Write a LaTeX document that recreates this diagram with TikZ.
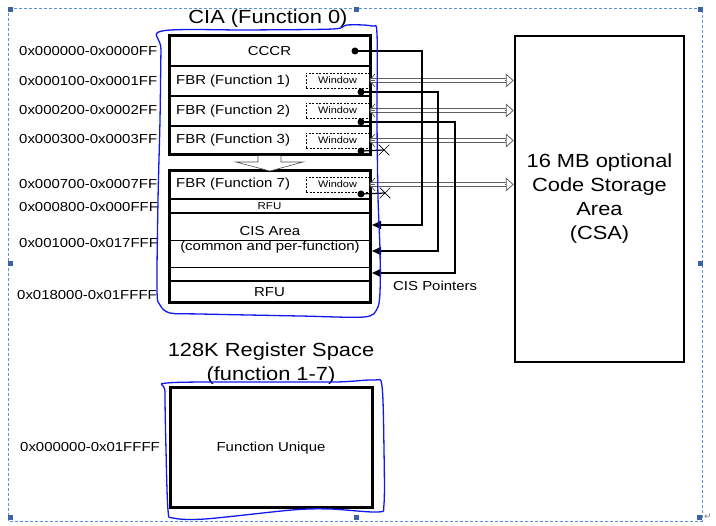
\documentclass[tikz,border=0pt]{standalone}
\usepackage{fontspec}
\setmainfont{Liberation Sans}[FakeStretch=1.15]
\newfontfamily\symfont{DejaVu Sans}
\usetikzlibrary{arrows.meta,shapes.misc}

\definecolor{handdrawn}{RGB}{15,25,240}
\definecolor{framedash}{RGB}{90,145,225}
\definecolor{handlecol}{RGB}{60,100,165}
\definecolor{linkgray}{RGB}{95,95,95}

\tikzset{
  addr/.style={anchor=west,inner sep=0pt,font=\fontsize{13}{15}\selectfont},
  lbl/.style={inner sep=0pt,font=\fontsize{13}{15}\selectfont},
  big/.style={inner sep=0pt,font=\fontsize{19}{24}\selectfont,align=center},
  row/.style={draw,line width=2,minimum width=201pt,inner sep=0pt,outer sep=0pt,font=\fontsize{13}{15}\selectfont},
  win/.style={draw,dash pattern={on 2pt off 1.5pt},line width=0.7,minimum width=63pt,minimum height=15pt,inner sep=0pt,font=\fontsize{9.5}{11}\selectfont},
  ptr/.style={line width=1.6,-{Triangle[length=9pt,width=8pt]}},
  csashaft/.style={draw=linkgray,line width=0.8,double=white,double distance=3.6pt,shorten >=8pt,shorten <=1pt},
  csahead/.style={draw=linkgray,line width=0.8,-{Triangle[open,length=8pt,width=14pt]}},
  csatail/.style={draw=linkgray,line width=0.8,-{Straight Barb[length=5pt,width=13pt]}},
  xmark/.style={draw,cross out,line width=0.7,minimum size=10pt,inner sep=0pt},
  handline/.style={handdrawn,line width=1.3},
}

\begin{document}
\begin{tikzpicture}[x=1pt,y=1pt,yscale=-1]
\useasboundingbox (0,0) rectangle (716,526);

%Shape: Rectangle (document frame)
\draw [framedash,line width=0.8,dash pattern=on 3pt off 2pt] (8,8) rectangle (702,521) ;
\fill [handlecol] (7.5,7.5) rectangle (12.5,12.5) ;
\fill [handlecol] (353.5,7.5) rectangle (358.5,12.5) ;
\fill [handlecol] (697.5,7.5) rectangle (702.5,12.5) ;
\fill [handlecol] (7.5,261.5) rectangle (12.5,266.5) ;
\fill [handlecol] (697.5,261.5) rectangle (702.5,266.5) ;
\fill [handlecol] (7.5,515.5) rectangle (12.5,520.5) ;
\fill [handlecol] (353.5,515.5) rectangle (358.5,520.5) ;
\fill [handlecol] (696.5,515.5) rectangle (701.5,520.5) ;
% Text Node
\node [text=gray,inner sep=0pt,font=\symfont\fontsize{9}{9}\selectfont] (pmark) at (708,517) {↵};

% Text Node
\node [big] (ciatitle) at (268,19) {CIA (Function 0)};

%Shape: Rectangle (CIA rows)
\node [row,minimum height=30pt] (cccr) at (269.5,51) {CCCR};
\node [row,minimum height=30pt] (fbr1) at (269.5,81) {};
\node [row,minimum height=30pt] (fbr2) at (269.5,111) {};
\node [row,minimum height=29pt] (fbr3) at (269.5,140.5) {};
\node [row,minimum height=28pt] (fbr7) at (269.5,185) {};
\node [row,minimum height=14pt,font=\fontsize{10}{11}\selectfont] (rfua) at (269.5,206) {RFU};
\node [row,minimum height=68pt] (cis) at (269.5,247) {};
\node [row,minimum height=22pt] (rfub) at (269.5,292) {RFU};
%Straight Lines
\draw [line width=0.8] (169,240) -- (370,240) ;
\draw [line width=0.8] (169,267) -- (370,267) ;
%Shape: Rectangle
\draw [line width=3] (cccr.north west) rectangle (fbr3.south east) ;
\draw [line width=3] (fbr7.north west) rectangle (rfub.south east) ;

%Shape: Block Arrow
\draw [fill=white,draw=gray!60!black,line width=0.6] (258,156) -- (258,162) -- (236,162) -- (270,171) -- (303,162) -- (281,162) -- (281,156) ;

% Text Node
\node [lbl,anchor=west] (fbr1txt) at (176,81) {FBR (Function 1)};
\node [lbl,anchor=west] (fbr2txt) at (176,111) {FBR (Function 2)};
\node [lbl,anchor=west] (fbr3txt) at (176,140) {FBR (Function 3)};
\node [lbl,anchor=west] (fbr7txt) at (176,184) {FBR (Function 7)};
\node [lbl] (cistxt) at (270,231) {CIS Area};
\node [lbl] (cistxtb) at (270,247) {(common and per-function)};

%Shape: Rectangle (windows)
\node [win] (win1) at (337.5,80.5) {Window};
\node [win] (win2) at (337.5,110.5) {Window};
\node [win] (win3) at (337.5,140.5) {Window};
\node [win] (win7) at (337.5,184.5) {Window};

% Text Node
\node [addr] (adr0) at (19,51) {0x000000-0x0000FF};
\node [addr] (adr1) at (19,81) {0x000100-0x0001FF};
\node [addr] (adr2) at (19,110) {0x000200-0x0002FF};
\node [addr] (adr3) at (19,139) {0x000300-0x0003FF};
\node [addr] (adr7) at (19,184) {0x000700-0x0007FF};
\node [addr] (adr8) at (19,207) {0x000800-0x000FFF};
\node [addr] (adrcis) at (19,243) {0x001000-0x017FFF};
\node [addr] (adrrfu) at (17,295) {0x018000-0x01FFFF};

%Shape: Rectangle (CSA)
\node [draw,line width=2.5,minimum width=169pt,minimum height=326pt,big] (csa) at (599.5,199) {16 MB optional\\Code Storage\\Area\\(CSA)};

%Double Lines (windows to CSA)
\coordinate (in1) at (win1.east -| csa.west) ;
\coordinate (in2) at (win2.east -| csa.west) ;
\coordinate (in3) at (win3.east -| csa.west) ;
\coordinate (in7) at (win7.east -| csa.west) ;
\draw [csashaft] (win1.east) -- (in1) ;
\draw [csashaft] (win2.east) -- (in2) ;
\draw [csashaft] (win3.east) -- (in3) ;
\draw [csashaft] (win7.east) -- (in7) ;
\draw [csahead] ([xshift=-9pt]in1) -- (in1) ;
\draw [csahead] ([xshift=-9pt]in2) -- (in2) ;
\draw [csahead] ([xshift=-9pt]in3) -- (in3) ;
\draw [csahead] ([xshift=-9pt]in7) -- (in7) ;
\draw [csatail] ([xshift=6pt]win1.east) -- (win1.east) ;
\draw [csatail] ([xshift=6pt]win2.east) -- (win2.east) ;
\draw [csatail] ([xshift=6pt]win3.east) -- (win3.east) ;
\draw [csatail] ([xshift=6pt]win7.east) -- (win7.east) ;

%Dots and CIS pointers
\coordinate (dot0) at (355,51) ;
\coordinate (dot1) at (361,92) ;
\coordinate (dot2) at (361,122) ;
\coordinate (dot3) at (361,151) ;
\coordinate (dot7) at (361,194) ;
\coordinate (tip0) at (372,225) ;
\coordinate (tip1) at (372,251) ;
\coordinate (tip2) at (372,273) ;
\node [xmark] (nox3) at (384,150) {};
\node [xmark] (nox7) at (385,193) {};
\draw [ptr] (dot0) -- (422,51) -- (422,225) -- (tip0) ;
\draw [ptr] (dot1) -- (438,92) -- (438,251) -- (tip1) ;
\draw [ptr] (dot2) -- (455,122) -- (455,273) -- (tip2) ;
\draw [line width=1.2] (dot3) -- (nox3.center) ;
\draw [line width=1.2] (dot7) -- (nox7.center) ;
\fill (dot0) circle (3.5) ;
\fill (dot1) circle (3.5) ;
\fill (dot2) circle (3.5) ;
\fill (dot3) circle (3.5) ;
\fill (dot7) circle (3.5) ;

% Text Node
\node [lbl,anchor=west] (cisptr) at (393,286) {CIS Pointers};

% Text Node
\node [big] (regtitle) at (271,364) {128K Register Space\\(function 1-7)};
%Shape: Rectangle
\node [draw,line width=3,minimum width=202pt,minimum height=120pt,lbl] (funiq) at (271,448) {Function Unique};
% Text Node
\node [addr] (adrfu) at (20,447) {0x000000-0x01FFFF};

%Curve Lines (hand-drawn marks)
\draw [handline] plot [smooth cycle,tension=0.5] coordinates {(162,31) (250,30) (333,29) (347,25) (372,26) (377,34) (377,120) (378,197) (380,250) (380,292) (377,309) (364,317) (300,316) (200,314) (170,313) (160,305) (157,290) (158,200) (160,120) (161,50)} ;
\draw [handline] plot [smooth cycle,tension=0.5] coordinates {(167,383) (250,382) (336,382) (374,380) (382,386) (384,450) (384,504) (378,512) (330,509) (292,510) (205,519) (173,518) (168,510) (166,450) (165,392)} ;

\end{tikzpicture}
\end{document}
